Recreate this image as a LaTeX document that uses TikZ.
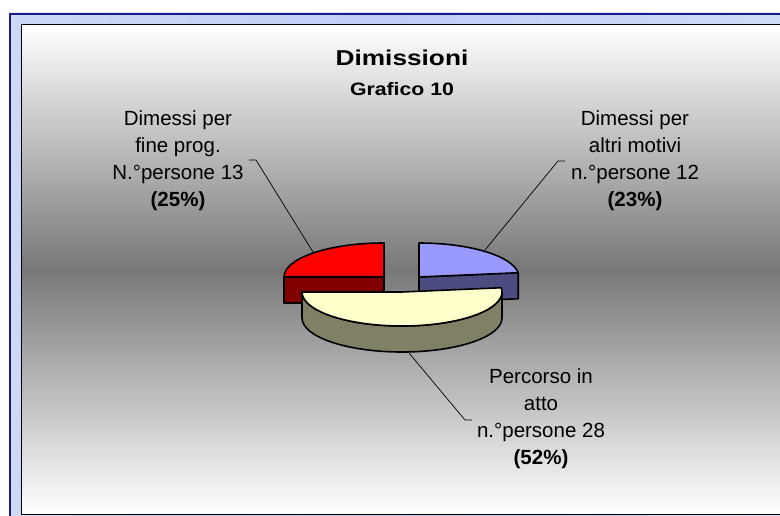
\documentclass[tikz,border=0pt]{standalone}
\usepackage{fontspec}
\setmainfont{Liberation Sans}
\definecolor{framebg}{RGB}{204,218,246}
\definecolor{framenavy}{RGB}{26,26,140}
\definecolor{midg}{gray}{0.47}
\definecolor{redtop}{RGB}{255,0,0}
\definecolor{redside}{RGB}{128,0,0}
\definecolor{bluetop}{RGB}{153,153,255}
\definecolor{blueside}{RGB}{76,76,128}
\definecolor{yeltop}{RGB}{255,255,204}
\definecolor{yelside}{RGB}{128,128,102}
\tikzset{
  pie/.style={draw=black, line width=1.6pt, line join=round},
  leader/.style={draw=black, line width=0.7pt},
  lbl/.style={align=center, inner sep=0pt, font=\fontsize{20.5}{27}\selectfont},
}
\begin{document}
\begin{tikzpicture}[x=1pt, y=-1pt]
\useasboundingbox (0,0) rectangle (780,516);
\fill[white] (0,0) rectangle (780,516);
\begin{scope}
\clip (0,0) rectangle (780,516);
% outer frame
\fill[framebg] (9,13) rectangle (800,540);
\shade[left color=framebg, right color=framebg!80!white, middle color=framebg!85!blue!90!white, opacity=0.5] (9,13) rectangle (800,540);
\draw[framenavy, line width=1.6pt] (9.8,13.8) rectangle (800,540);
% chart area
\shade[top color=white, bottom color=white, middle color=midg] (21,25) rectangle (800,514);
\draw[black, line width=1pt] (21,25) rectangle (800,514);
\end{scope}

% title
\node[inner sep=0pt] (title) at (402,58) {\scalebox{1.22}[1]{\fontsize{21.5}{26}\selectfont\bfseries Dimissioni}};
\node[inner sep=0pt] (subtitle) at (402,89) {\scalebox{1.18}[1]{\fontsize{18}{22}\selectfont\bfseries Grafico 10}};

% red slice (25%)
\draw[pie, fill=redside] (284,277) rectangle (384,303);
\draw[pie, fill=redtop] (384,277) -- (384,243) arc[start angle=-90, end angle=-180, x radius=100, y radius=34] -- cycle;

% blue slice (23%)
\draw[pie, fill=blueside] (419,277) -- (518.21,272.74) -- (518.21,298.74) -- (419,303) -- cycle;
\draw[pie, fill=bluetop] (419,277) -- (518.21,272.74) arc[start angle=-7.2, end angle=-90, x radius=100, y radius=34] -- cycle;

% yellow slice (52%)
\draw[pie, fill=yelside] (302,292) arc[start angle=-180, end angle=-360, x radius=100, y radius=34] -- (502,318) arc[start angle=0, end angle=180, x radius=100, y radius=34] -- cycle;
\draw[pie, fill=yeltop] (402,292) -- (302,292) arc[start angle=-180, end angle=-367.2, x radius=100, y radius=34] -- cycle;

% labels
\node[lbl] (lblRed) at (178,161) {Dimessi per\\fine prog.\\N.°persone 13\\\textbf{(25\%)}};
\node[lbl] (lblBlue) at (635,161) {Dimessi per\\altri motivi\\n.°persone 12\\\textbf{(23\%)}};
\node[lbl] (lblYel) at (541,419) {Percorso in\\atto\\n.°persone 28\\\textbf{(52\%)}};

% leader lines
\coordinate (rA) at (249,160);
\coordinate (rB) at (256,160);
\coordinate (rP) at (313,252);
\draw[leader] (rA) -- (rB) -- (rP);
\coordinate (bA) at (565,161);
\coordinate (bB) at (558,161);
\coordinate (bP) at (485,250);
\draw[leader] (bA) -- (bB) -- (bP);
\coordinate (yA) at (472,420);
\coordinate (yB) at (465,420);
\coordinate (yP) at (409,353);
\draw[leader] (yA) -- (yB) -- (yP);
\end{tikzpicture}
\end{document}
